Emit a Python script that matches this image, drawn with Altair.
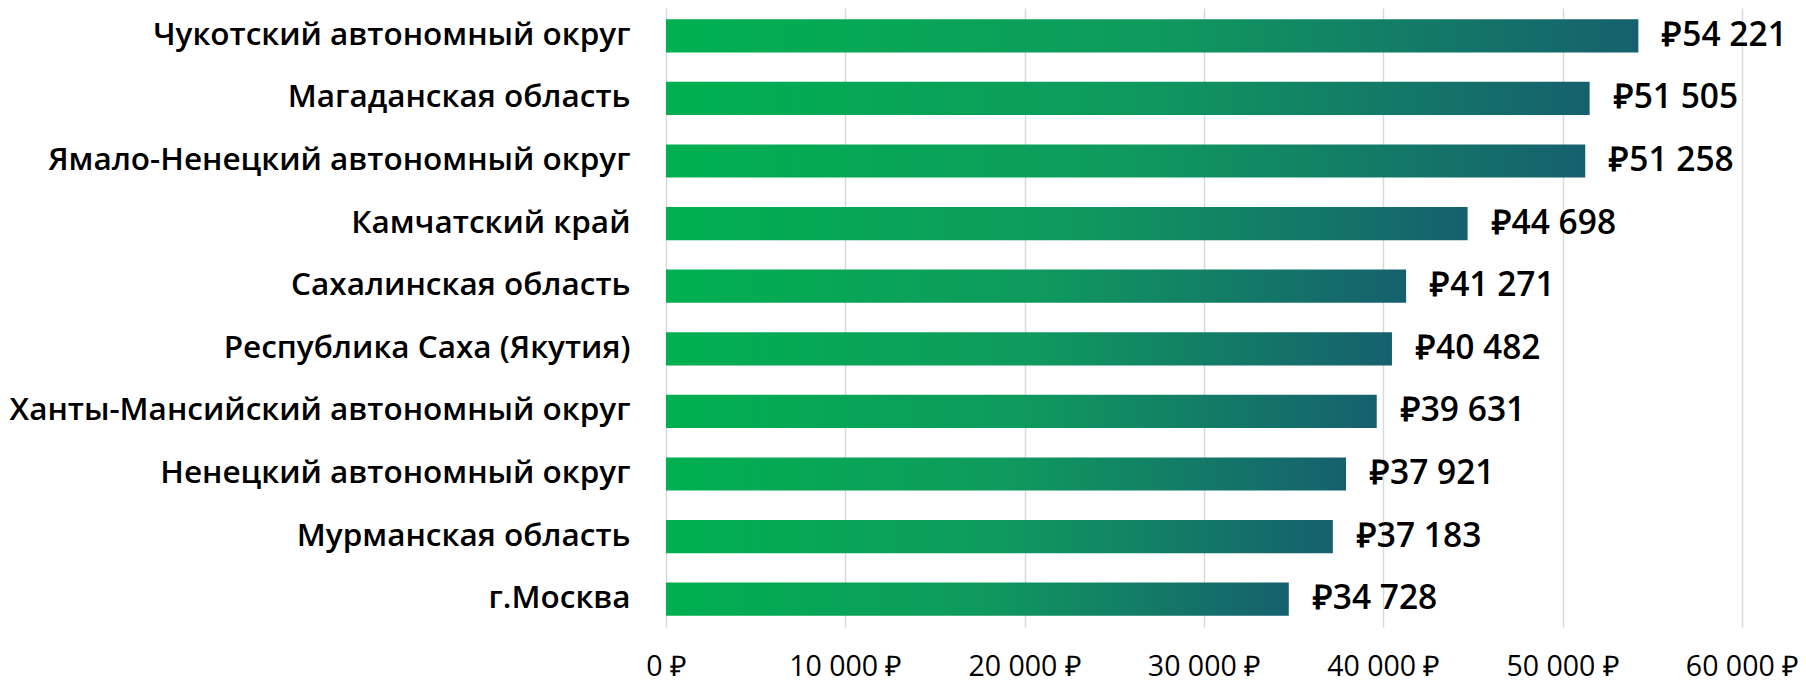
import altair as alt
import pandas as pd

regions = [
    "Чукотский автономный округ",
    "Магаданская область",
    "Ямало-Ненецкий автономный округ",
    "Камчатский край",
    "Сахалинская область",
    "Республика Саха (Якутия)",
    "Ханты-Мансийский автономный округ",
    "Ненецкий автономный округ",
    "Мурманская область",
    "г.Москва",
]
values = [54221, 51505, 51258, 44698, 41271, 40482, 39631, 37921, 37183, 34728]
x_ticks = [0, 10000, 20000, 30000, 40000, 50000, 60000]

df = pd.DataFrame({"region": regions, "value": values})
df["label"] = ["₽" + f"{v:,}".replace(",", " ") for v in values]

LABEL_FONT = "Open Sans"

y_enc = alt.Y("region:N", sort=regions, title=None,
              scale=alt.Scale(paddingInner=0.47, paddingOuter=0.18),
              axis=alt.Axis(labelFontSize=31.5, labelFont=LABEL_FONT, labelFontWeight=600,
                            labelColor="#000000",
                            labelPadding=36, ticks=False, domain=False, grid=False,
                            labelLimit=700))
x_enc = alt.X("value:Q", title=None,
              scale=alt.Scale(domain=[0, 60000], nice=False),
              axis=alt.Axis(values=x_ticks, labelFontSize=28.5, labelFont=LABEL_FONT,
                            labelFontWeight=400,
                            labelColor="#000000", ticks=False, domain=False,
                            grid=True, gridColor="#d9d9d9", gridWidth=1.5,
                            labelPadding=25, labelFlush=False, labelOverlap=False,
                            labelExpr="replace(format(datum.value, ',d'), ',', ' ') + ' ₽'"))

grad = alt.Gradient(
    gradient="linear",
    stops=[alt.GradientStop(color="#00B050", offset=0),
           alt.GradientStop(color="#0F9A5E", offset=0.5),
           alt.GradientStop(color="#16606E", offset=1)],
    x1=0, x2=1, y1=0, y2=0,
)

bars = alt.Chart(df).mark_bar(color=grad).encode(x=x_enc, y=y_enc)
text = alt.Chart(df).mark_text(align="left", baseline="middle", dx=24,
                               fontSize=33.5, font=LABEL_FONT, fontWeight=600,
                               color="#000000").encode(
    x="value:Q", y=alt.Y("region:N", sort=regions), text="label:N")

chart = (bars + text).properties(
    width=1076, height=619,
    autosize=alt.AutoSizeParams(type="none"),
    padding={"left": 658, "top": 0, "right": 56, "bottom": 60},
).configure(background="white", view=alt.ViewConfig(stroke=None))

chart.save("out.html", embed_options={"renderer": "svg", "actions": False})
